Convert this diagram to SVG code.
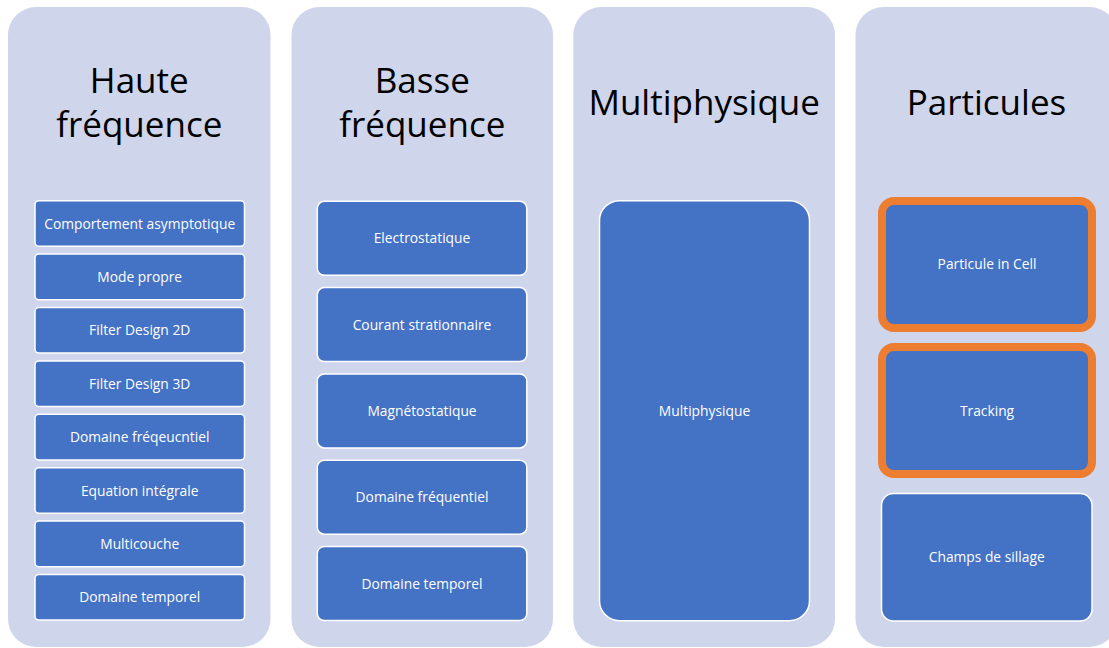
<svg xmlns="http://www.w3.org/2000/svg" width="1109" height="648" viewBox="0 0 1109 648">
<style>
.col{fill:#CFD5EA}
.box{fill:#4472C4;stroke:#FFFFFF;stroke-width:1.5}
.hl{fill:#4472C4;stroke:#ED7D31;stroke-width:8}
.title{font-family:"Open Sans","Liberation Sans",sans-serif;font-size:35px;fill:#000;text-anchor:middle}
.lbl{font-family:"Open Sans","Liberation Sans",sans-serif;font-size:13.8px;fill:#FFFFFF;text-anchor:middle}
</style>
<rect width="1109" height="648" fill="#FFFFFF"/>
<g id="col-haute">
<rect class="col" x="8" y="7" width="262.5" height="640" rx="28"/>
<text class="title" x="139.3" y="92.7">Haute</text>
<text class="title" x="139.3" y="137">fréquence</text>
</g>
<g id="col-basse">
<rect class="col" x="291.5" y="7" width="261.5" height="640" rx="28"/>
<text class="title" x="422.3" y="92.7">Basse</text>
<text class="title" x="422.3" y="137">fréquence</text>
</g>
<g id="col-multi">
<rect class="col" x="573.3" y="7" width="261.7" height="640" rx="28"/>
<text class="title" x="704.2" y="115">Multiphysique</text>
</g>
<g id="col-part">
<rect class="col" x="855.5" y="7" width="262" height="640" rx="28"/>
<text class="title" x="986.5" y="115">Particules</text>
</g>
<g id="hf1"><rect class="box" x="35" y="200.7" width="209.5" height="45.6" rx="4"/><text class="lbl" x="139.7" y="228.5">Comportement asymptotique</text></g>
<g id="hf2"><rect class="box" x="35" y="254.1" width="209.5" height="45.6" rx="4"/><text class="lbl" x="139.7" y="281.9">Mode propre</text></g>
<g id="hf3"><rect class="box" x="35" y="307.5" width="209.5" height="45.6" rx="4"/><text class="lbl" x="139.7" y="335.3">Filter Design 2D</text></g>
<g id="hf4"><rect class="box" x="35" y="360.9" width="209.5" height="45.6" rx="4"/><text class="lbl" x="139.7" y="388.7">Filter Design 3D</text></g>
<g id="hf5"><rect class="box" x="35" y="414.3" width="209.5" height="45.6" rx="4"/><text class="lbl" x="139.7" y="442.1">Domaine fréqeucntiel</text></g>
<g id="hf6"><rect class="box" x="35" y="467.7" width="209.5" height="45.6" rx="4"/><text class="lbl" x="139.7" y="495.5">Equation intégrale</text></g>
<g id="hf7"><rect class="box" x="35" y="521.1" width="209.5" height="45.6" rx="4"/><text class="lbl" x="139.7" y="548.9">Multicouche</text></g>
<g id="hf8"><rect class="box" x="35" y="574.5" width="209.5" height="45.6" rx="4"/><text class="lbl" x="139.7" y="602.3">Domaine temporel</text></g>
<g id="bf1"><rect class="box" x="317.3" y="201.3" width="209.5" height="74" rx="7"/><text class="lbl" x="422" y="243.3">Electrostatique</text></g>
<g id="bf2"><rect class="box" x="317.3" y="287.6" width="209.5" height="74" rx="7"/><text class="lbl" x="422" y="329.6">Courant strationnaire</text></g>
<g id="bf3"><rect class="box" x="317.3" y="373.9" width="209.5" height="74" rx="7"/><text class="lbl" x="422" y="415.9">Magnétostatique</text></g>
<g id="bf4"><rect class="box" x="317.3" y="460.2" width="209.5" height="74" rx="7"/><text class="lbl" x="422" y="502.2">Domaine fréquentiel</text></g>
<g id="bf5"><rect class="box" x="317.3" y="546.5" width="209.5" height="74" rx="7"/><text class="lbl" x="422" y="588.5">Domaine temporel</text></g>
<g id="mp1"><rect class="box" x="599.5" y="200.7" width="210" height="420" rx="20"/><text class="lbl" x="704.5" y="415.5">Multiphysique</text></g>
<g id="pa1"><rect class="hl" x="882" y="201" width="210" height="127" rx="12"/><text class="lbl" x="987" y="269">Particule in Cell</text></g>
<g id="pa2"><rect class="hl" x="882" y="347" width="210" height="127" rx="12"/><text class="lbl" x="987" y="415.5">Tracking</text></g>
<g id="pa3"><rect class="box" x="881.5" y="493.5" width="210.5" height="127.5" rx="12"/><text class="lbl" x="986.7" y="562">Champs de sillage</text></g>
<g id="connectors"></g>
</svg>
